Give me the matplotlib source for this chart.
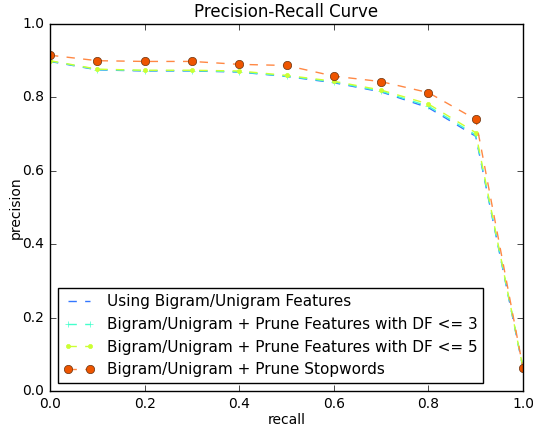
import numpy as np
import matplotlib
matplotlib.use('Agg')
import matplotlib.pyplot as plt

plt.style.use('classic')

recall = [0.0, 0.1, 0.2, 0.3, 0.4, 0.5, 0.6, 0.7, 0.8, 0.9, 1.0]
prec_base = [0.898, 0.875, 0.872, 0.872, 0.869, 0.857, 0.840, 0.815, 0.772, 0.694, 0.063]
prec_df3 = [0.899, 0.876, 0.873, 0.873, 0.870, 0.858, 0.842, 0.817, 0.776, 0.698, 0.063]
prec_df5 = [0.900, 0.877, 0.874, 0.874, 0.872, 0.860, 0.844, 0.820, 0.782, 0.704, 0.063]
prec_stop = [0.915, 0.900, 0.898, 0.898, 0.890, 0.887, 0.858, 0.843, 0.813, 0.740, 0.063]

labels = ['Using Bigram/Unigram Features',
          'Bigram/Unigram + Prune Features with DF <= 3',
          'Bigram/Unigram + Prune Features with DF <= 5',
          'Bigram/Unigram + Prune Stopwords']

fig = plt.figure(figsize=(5.33, 4.28), dpi=100, facecolor='white')
ax = fig.add_axes([50/533, 37/428, 473/533, 367/428])

ax.plot(recall, prec_base, '--', color='#3377ff', label=labels[0])
ax.plot(recall, prec_df3, '--+', color='#44ffcc', mec='#44ffcc', ms=5, label=labels[1])
ax.plot(recall, prec_df5, '--.', color='#ccff33', mec='#ccff33', label=labels[2])
ax.plot(recall, prec_stop, '--o', color='#ff8844', mfc='#ee5500', mec='#663311',
        label=labels[3])

ax.set_xlim(0, 1)
ax.set_ylim(0, 1)
ax.set_xticks([0.0, 0.2, 0.4, 0.6, 0.8, 1.0])
ax.set_yticks([0.0, 0.2, 0.4, 0.6, 0.8, 1.0])
ax.tick_params(labelsize=10)
ax.set_xlabel('recall', fontsize=10, labelpad=2)
ax.set_ylabel('precision', fontsize=10, labelpad=0)
ax.set_title('Precision-Recall Curve', fontsize=12)
ax.legend(loc='lower left', fontsize=11)

fig.savefig('out.png', dpi=100, facecolor='white')
